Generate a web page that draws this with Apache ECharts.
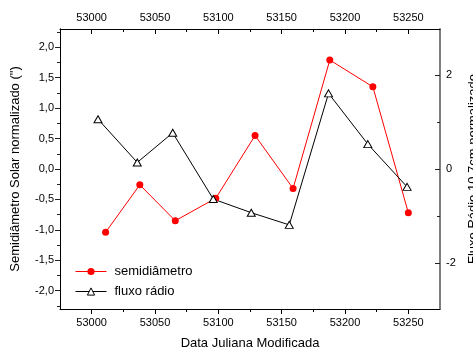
<!DOCTYPE html>
<html>
<head>
<meta charset="utf-8">
<script src="https://cdn.jsdelivr.net/npm/echarts@6/dist/echarts.min.js"></script>
<style>
  html, body { margin: 0; padding: 0; background: #fff; }
  #chart { width: 473px; height: 349px; }
</style>
</head>
<body>
<div id="chart"></div>
<script>
// semidiametro (eixo esquerdo)
const semiMJD = [53011, 53038, 53066, 53098, 53129, 53159, 53188, 53222, 53250]
const semiValues = [-1.04, -0.26, -0.85, -0.48, 0.55, -0.32, 1.79, 1.35, -0.72]
// fluxo radio (eixo direito)
const fluxMJD = [53005, 53036, 53064, 53096, 53126, 53156, 53187, 53218, 53249]
const fluxValues = [1.06, 0.14, 0.77, -0.64, -0.93, -1.19, 1.61, 0.53, -0.38]

const xMajor = [53000, 53050, 53100, 53150, 53200, 53250]
const xMinor = [53025, 53075, 53125, 53175, 53225]
const leftMajor = [-2, -1.5, -1, -0.5, 0, 0.5, 1, 1.5, 2]
const leftMinor = [-2.25, -1.75, -1.25, -0.75, -0.25, 0.25, 0.75, 1.25, 1.75, 2.25]
const rightMajor = [-2, 0, 2]
const rightMinor = [-1, 1]

const font = 'Liberation Sans'

function xAxisDef(position, ticks, len, inside, withLabels, lineShow) {
  return {
    type: 'value',
    position: position,
    min: 52975,
    max: 53275,
    splitLine: { show: false },
    axisLine: { show: lineShow, onZero: false, lineStyle: { color: '#000', width: 1 } },
    axisTick: { show: true, customValues: ticks, length: len, inside: inside, lineStyle: { color: '#000' } },
    axisLabel: {
      show: withLabels,
      customValues: ticks,
      fontSize: 11,
      fontFamily: font,
      color: '#000',
      margin: position === 'bottom' ? 8 : 6,
      formatter: function(v) {
        return String(v)
      }
    }
  }
}

function yAxisDef(position, min, max, ticks, len, inside, withLabels, lineColor, fmt) {
  return {
    type: 'value',
    position: position,
    min: min,
    max: max,
    splitLine: { show: false },
    axisLine: { show: true, onZero: false, lineStyle: { color: lineColor, width: position === 'right' ? 1.5 : 1 } },
    axisTick: { show: true, customValues: ticks, length: len, inside: inside, lineStyle: { color: '#222' } },
    axisLabel: {
      show: withLabels,
      customValues: ticks,
      fontSize: 11,
      fontFamily: font,
      color: '#000',
      margin: 6,
      formatter: fmt
    }
  }
}

const chart = echarts.init(document.getElementById('chart'))

const xAxes = [
  xAxisDef('bottom', xMajor, 5, false, true, true),
  xAxisDef('bottom', xMinor, 3, false, false, false),
  xAxisDef('top', xMajor, 5, true, true, true),
  xAxisDef('top', xMinor, 3, true, false, false)
]
xAxes[0].name = 'Data Juliana Modificada'
xAxes[0].nameLocation = 'middle'
xAxes[0].nameGap = 28
xAxes[0].nameTextStyle = { fontSize: 13, fontFamily: font, color: '#000' }

const commaFmt = function(v) {
  return v.toFixed(1).replace('.', ',')
}
const yAxes = [
  yAxisDef('left', -2.3, 2.3, leftMajor, 5, false, true, '#000', commaFmt),
  yAxisDef('left', -2.3, 2.3, leftMinor, 3, false, false, '#000'),
  yAxisDef('right', -2.98, 2.98, rightMajor, 5, true, true, '#777'),
  yAxisDef('right', -2.98, 2.98, rightMinor, 3, true, false, '#777')
]
yAxes[0].name = 'Semidiâmetro Solar normalizado (")'
yAxes[0].nameLocation = 'middle'
yAxes[0].nameGap = 38
yAxes[0].nameTextStyle = { fontSize: 13, fontFamily: font, color: '#000' }
yAxes[2].name = 'Fluxo Rádio 10.7cm normalizado'
yAxes[2].nameLocation = 'middle'
yAxes[2].nameGap = 27
yAxes[2].nameTextStyle = { fontSize: 13, fontFamily: font, color: '#000' }

const option = {
  animation: false,
  backgroundColor: '#fff',
  grid: {
    left: 60,
    right: 33,
    top: 29,
    bottom: 40,
    containLabel: false,
    outerBoundsMode: 'none'
  },
  legend: {
    orient: 'vertical',
    left: 75,
    top: 265,
    padding: 0,
    itemWidth: 31,
    itemHeight: 9,
    itemGap: 7,
    lineStyle: { width: 1 },
    itemStyle: { borderWidth: 1 },
    textStyle: { fontSize: 13, fontFamily: font, color: '#000', padding: [0, 0, 0, 3] },
    data: ['semidiâmetro', 'fluxo rádio']
  },
  xAxis: xAxes,
  yAxis: yAxes,
  series: [
    {
      name: 'semidiâmetro',
      type: 'line',
      xAxisIndex: 0,
      yAxisIndex: 0,
      symbol: 'circle',
      symbolSize: 7,
      itemStyle: { color: '#ff0000' },
      lineStyle: { color: '#ff0000', width: 1 },
      data: semiMJD.map(function(x, i) { return [x, semiValues[i]] })
    },
    {
      name: 'fluxo rádio',
      type: 'line',
      xAxisIndex: 0,
      yAxisIndex: 2,
      symbol: 'triangle',
      symbolSize: [8, 7],
      itemStyle: { color: '#fff', borderColor: '#000', borderWidth: 1 },
      lineStyle: { color: '#000', width: 1 },
      data: fluxMJD.map(function(x, i) { return [x, fluxValues[i]] })
    }
  ]
}

chart.setOption(option)
</script>
</body>
</html>
